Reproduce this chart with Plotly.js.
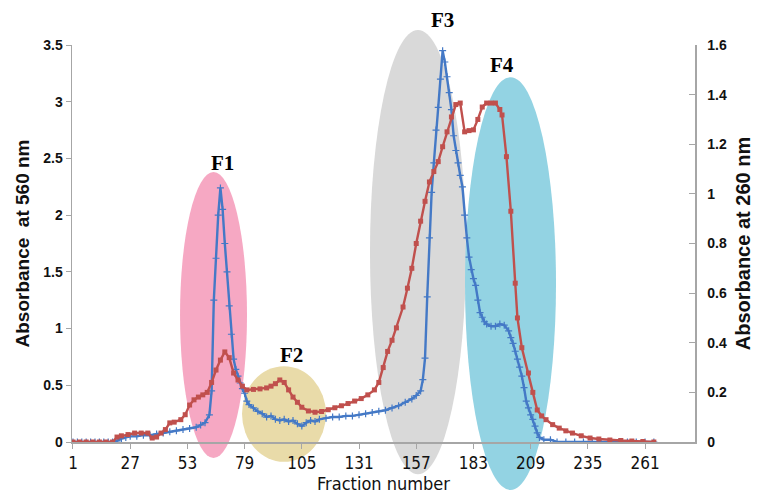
<!DOCTYPE html>
<html>
<head>
<meta charset="utf-8">
<script src="https://cdn.plot.ly/plotly-3.0.1.min.js"></script>
<style>
html,body{margin:0;padding:0;background:#fff;}
#chart{width:771px;height:501px;}
</style>
</head>
<body>
<div id="chart"></div>
<script>
// Fraction numbers and absorbance readings
var fracBlue = [1,3,5,7,9,11,13,15,17,19,21,23,25,27,30,33,36,39,42,45,48,51,54,57,59,61,63,64,65,66,67,68,69,70,71,72,73,74,75,76,77,78,79,80,81,83,85,87,89,91,93,95,97,99,101,103,105,107,109,111,113,116,119,122,125,128,131,134,137,140,143,146,149,152,155,157,159,160,161,162,163,164,165,166,167,168,169,170,171,172,173,174,175,176,177,178,179,180,181,182,183,184,185,186,187,188,189,191,193,195,197,199,200,201,202,203,204,205,206,207,208,209,210,211,212,213,215,218,221,225,229,233,237,241,245,249,253,257,261,265];
var absBlue = [0,0,0,0,0,0,0,0,0,0,0.01,0.03,0.04,0.05,0.05,0.06,0.06,0.07,0.08,0.09,0.10,0.11,0.12,0.13,0.15,0.17,0.24,0.45,1.25,1.62,2.0,2.24,2.05,1.75,1.5,1.2,0.95,0.73,0.64,0.58,0.52,0.47,0.43,0.36,0.33,0.30,0.27,0.25,0.22,0.23,0.20,0.19,0.20,0.18,0.19,0.16,0.14,0.17,0.19,0.18,0.20,0.21,0.22,0.22,0.23,0.23,0.24,0.25,0.26,0.27,0.28,0.30,0.32,0.35,0.38,0.41,0.45,0.55,0.74,1.28,1.8,2.2,2.46,2.75,2.95,3.2,3.45,3.35,3.22,3.08,2.93,2.7,2.57,2.46,2.35,2.25,2.0,1.8,1.63,1.52,1.44,1.38,1.25,1.14,1.10,1.06,1.04,1.02,1.02,1.04,1.03,0.98,0.92,0.87,0.80,0.73,0.66,0.58,0.48,0.36,0.30,0.24,0.20,0.14,0.08,0.04,0.02,0.02,0,0,0,0,0,0,0,0,0,0,0,0];

var fracRed = [1,4,7,10,13,16,19,21,23,26,29,32,35,37,39,41,43,45,47,50,52,54,56,58,60,62,64,66,68,70,72,74,76,78,80,83,86,89,91,93,95,97,99,101,103,105,108,111,114,117,120,123,126,129,132,135,138,140,142,144,146,148,151,153,155,157,159,161,163,165,167,169,171,173,175,177,179,181,183,185,187,189,191,193,195,196,198,200,202,203,205,208,210,212,214,216,219,222,225,228,232,236,240,245,250,255,260,265];
var absRed = [0,0,0,0,0,0,0,0.02,0.025,0.03,0.036,0.036,0.036,0.016,0.02,0.036,0.05,0.077,0.08,0.09,0.11,0.149,0.17,0.181,0.19,0.20,0.24,0.29,0.33,0.363,0.34,0.278,0.25,0.225,0.21,0.212,0.214,0.218,0.225,0.235,0.25,0.24,0.21,0.181,0.16,0.14,0.125,0.12,0.123,0.13,0.138,0.146,0.155,0.165,0.175,0.19,0.21,0.24,0.30,0.365,0.41,0.46,0.544,0.62,0.70,0.80,0.89,0.97,1.048,1.09,1.13,1.19,1.25,1.31,1.36,1.366,1.25,1.255,1.258,1.30,1.35,1.366,1.366,1.366,1.34,1.318,1.15,0.93,0.64,0.50,0.38,0.278,0.20,0.129,0.105,0.09,0.07,0.056,0.045,0.036,0.025,0.016,0.012,0.008,0.006,0.004,0.002,0];

var xTicks = [1,27,53,79,105,131,157,183,209,235,261];
var peakLabels = ['F1','F2','F3','F4'];

var traces = [
  {x: fracRed, y: absRed, yaxis: 'y2', type: 'scatter', mode: 'lines+markers',
   line: {color: '#C0504D', width: 2.4},
   marker: {symbol: 'square', size: 5, color: '#C0504D'}, showlegend: false, hoverinfo: 'skip'},
  {x: fracBlue, y: absBlue, yaxis: 'y', type: 'scatter', mode: 'lines+markers',
   line: {color: '#4479C6', width: 2.4},
   marker: {symbol: 'cross-thin', size: 5, color: '#4479C6', line: {color: '#4479C6', width: 1.2}}, showlegend: false, hoverinfo: 'skip'}
];

var axisFont = {family: 'Arial, Liberation Sans, sans-serif', size: 14, color: '#111', weight: 'bold'};
var labelFont = {family: 'Liberation Serif, Times New Roman, serif', size: 21, color: '#000', weight: 'bold'};

function peakNote(i, x, y) {
  return {text: peakLabels[i], xref: 'paper', yref: 'paper', x: x, y: y,
          xanchor: 'center', yanchor: 'middle', showarrow: false, font: labelFont};
}

var layout = {
  width: 771, height: 501,
  margin: {l: 72, r: 76, t: 45, b: 59, pad: 0},
  paper_bgcolor: '#ffffff', plot_bgcolor: 'rgba(0,0,0,0)',
  showlegend: false,
  xaxis: {
    range: [0.55, 283.7], tickmode: 'array', tickvals: xTicks, ticktext: xTicks.map(String),
    showgrid: false, zeroline: false, showline: true, linecolor: '#A6A6A6', linewidth: 1.5,
    ticks: 'outside', ticklen: 5, tickcolor: '#A6A6A6',
    tickfont: {family: 'Liberation Sans Narrow, DejaVu Sans Condensed, Arial Narrow, sans-serif', size: 17, color: '#111'},
    title: {text: 'Fraction number', standoff: 3, font: {family: 'Liberation Sans Narrow, DejaVu Sans Condensed, sans-serif', size: 18, color: '#111'}}
  },
  yaxis: {
    range: [0, 3.5], dtick: 0.5, tick0: 0,
    showgrid: false, zeroline: false, showline: true, linecolor: '#A6A6A6', linewidth: 1.5,
    ticks: 'outside', ticklen: 5, tickcolor: '#A6A6A6',
    tickfont: axisFont,
    title: {text: 'Absorbance&nbsp;&nbsp;at 560 nm', standoff: 8, font: {family: 'Arial, Liberation Sans, sans-serif', size: 19, color: '#111', weight: 'bold'}}
  },
  yaxis2: {
    range: [0, 1.6], dtick: 0.2, tick0: 0, overlaying: 'y', side: 'right',
    showgrid: false, zeroline: false, showline: true, linecolor: '#A6A6A6', linewidth: 1.5,
    ticks: 'inside', ticklen: 6, tickcolor: '#A6A6A6',
    tickfont: axisFont, ticklabelstandoff: 8,
    title: {text: 'Absorbance at 260 nm', standoff: 10, font: {family: 'Arial, Liberation Sans, sans-serif', size: 20, color: '#111', weight: 'bold'}}
  },
  shapes: [
    {type: 'circle', xref: 'paper', yref: 'paper', x0: 0.1734, x1: 0.2809, y0: -0.040, y1: 0.680, fillcolor: '#F6A8C3', line: {width: 0}, layer: 'below'},
    {type: 'circle', xref: 'paper', yref: 'paper', x0: 0.2729, x1: 0.4077, y0: -0.050, y1: 0.191, fillcolor: '#E9DBA9', line: {width: 0}, layer: 'below'},
    {type: 'circle', xref: 'paper', yref: 'paper', x0: 0.4783, x1: 0.6324, y0: -0.081, y1: 1.038, fillcolor: '#D9D9D9', line: {width: 0}, layer: 'below'},
    {type: 'circle', xref: 'paper', yref: 'paper', x0: 0.6308, x1: 0.7769, y0: -0.121, y1: 0.919, fillcolor: '#93D3E3', line: {width: 0}, layer: 'below'}
  ],
  annotations: [
    peakNote(0, 0.2408, 0.703),
    peakNote(1, 0.353, 0.219),
    peakNote(2, 0.594, 1.063),
    peakNote(3, 0.690, 0.950)
  ]
};

Plotly.newPlot('chart', traces, layout, {staticPlot: true, displayModeBar: false});
</script>
</body>
</html>
